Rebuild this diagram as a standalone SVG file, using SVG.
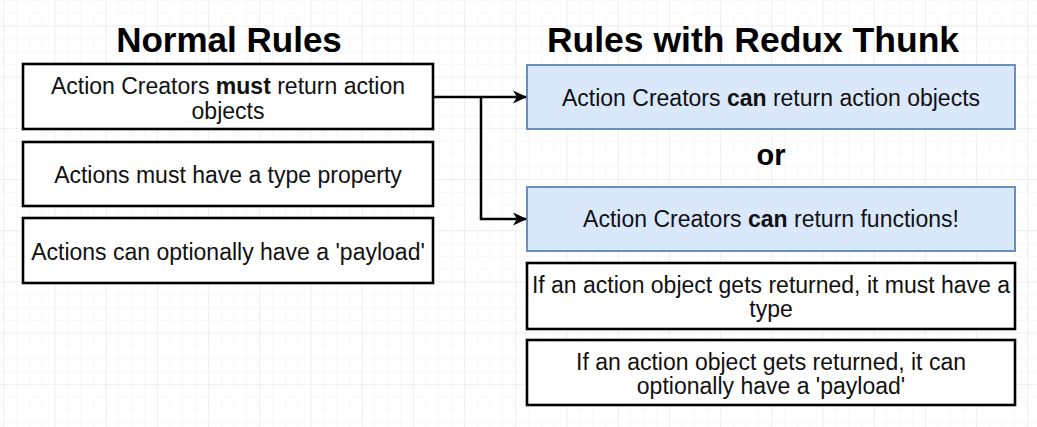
<svg xmlns="http://www.w3.org/2000/svg" width="1037" height="427" viewBox="0 0 1037 427">
  <defs>
    <pattern id="minor" x="3.3" y="25.4" width="12.8" height="12.8" patternUnits="userSpaceOnUse">
      <path d="M0 0H12.8M0 0V12.8" fill="none" stroke="#f2f2f2" stroke-width="1"/>
    </pattern>
    <pattern id="major" x="3.3" y="25.4" width="51.2" height="51.2" patternUnits="userSpaceOnUse">
      <path d="M0 0H51.2M0 0V51.2" fill="none" stroke="#e6e6e6" stroke-width="1"/>
    </pattern>
    <marker id="arrow" viewBox="0 0 14 14" refX="13" refY="7" markerWidth="14" markerHeight="14" markerUnits="userSpaceOnUse" orient="auto">
      <path d="M0 0.5L14 7L0 13.5L4 7Z" fill="#000"/>
    </marker>
    <style>
      .title{font-family:"Liberation Sans",Arial,sans-serif;font-weight:bold;fill:#000;text-anchor:middle}
      .txt{font-family:"Liberation Sans",Arial,sans-serif;font-size:23px;fill:#111;text-anchor:middle}
      .box{fill:#fff;stroke:#000;stroke-width:2.6}
      .blue{fill:#dae8fc;stroke:#6c8ebf;stroke-width:2}
      .edge{fill:none;stroke:#000;stroke-width:2.5}
      b,.b{font-weight:bold}
    </style>
  </defs>
  <rect width="1037" height="427" fill="#fff"/>
  <rect width="1037" height="427" fill="url(#minor)"/>
  <rect width="1037" height="427" fill="url(#major)"/>

  <text class="title" x="229" y="52" font-size="35">Normal Rules</text>
  <text class="title" x="753" y="52" font-size="35.5">Rules with Redux Thunk</text>

  <g id="n-must-return">
    <rect class="box" x="23" y="64" width="410" height="65"/>
    <text class="txt" x="228" y="94">Action Creators <tspan class="b">must</tspan> return action</text>
    <text class="txt" x="228" y="118.5">objects</text>
  </g>
  <g id="n-type">
    <rect class="box" x="23" y="142" width="410" height="64"/>
    <text class="txt" x="228" y="183">Actions must have a type property</text>
  </g>
  <g id="n-payload">
    <rect class="box" x="23" y="218" width="410" height="65"/>
    <text class="txt" x="228" y="259.5">Actions can optionally have a 'payload'</text>
  </g>

  <g id="t-can-objects">
    <rect class="blue" x="527" y="65" width="488" height="64"/>
    <text class="txt" x="771" y="106">Action Creators <tspan class="b">can</tspan> return action objects</text>
  </g>
  <g id="t-or">
    <text class="title" x="771" y="165" font-size="29">or</text>
  </g>
  <g id="t-can-functions">
    <rect class="blue" x="527" y="187" width="488" height="64"/>
    <text class="txt" x="771" y="227">Action Creators <tspan class="b">can</tspan> return functions!</text>
  </g>
  <g id="t-must-type">
    <rect class="box" x="527" y="263" width="488" height="66"/>
    <text class="txt" x="771" y="292.5">If an action object gets returned, it must have a</text>
    <text class="txt" x="771" y="317">type</text>
  </g>
  <g id="t-optional-payload">
    <rect class="box" x="527" y="340" width="488" height="65"/>
    <text class="txt" x="771" y="369.5">If an action object gets returned, it can</text>
    <text class="txt" x="771" y="394">optionally have a 'payload'</text>
  </g>

  <g id="connectors">
    <path class="edge" d="M433 97H526" marker-end="url(#arrow)"/>
    <path class="edge" d="M481 97V219H526" marker-end="url(#arrow)"/>
  </g>
</svg>
